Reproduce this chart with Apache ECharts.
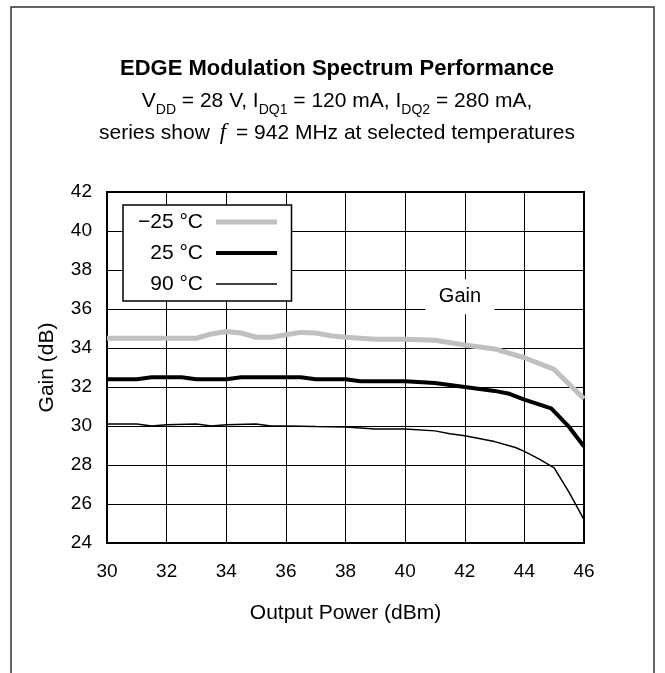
<!DOCTYPE html>
<html>
<head>
<meta charset="utf-8">
<script src="https://cdn.jsdelivr.net/npm/echarts@6/dist/echarts.min.js"></script>
<style>
  html, body { margin: 0; padding: 0; background: #fff; }
  #chart { width: 665px; height: 673px; }
</style>
</head>
<body>
<div id="chart"></div>
<script>
// output power (dBm) / gain (dB)
var seriesNames = ['\u221225 \u00b0C', '25 \u00b0C', '90 \u00b0C'];

var pOutCold = [30, 31, 32, 33, 33.5, 34, 34.5, 35, 35.5, 36, 36.5, 37, 37.5, 38, 39, 40, 41, 42, 43, 44, 45, 46];
var gainCold = [34.5, 34.5, 34.5, 34.5, 34.72, 34.85, 34.77, 34.55, 34.55, 34.68, 34.8, 34.77, 34.63, 34.55, 34.45, 34.45, 34.4, 34.15, 33.95, 33.5, 32.9, 31.4];

var pOutRoom = [30, 31, 31.5, 32, 32.5, 33, 34, 34.5, 35, 36, 36.5, 37, 38, 38.5, 39, 40, 41, 42, 43, 43.5, 44, 44.9, 45.5, 46];
var gainRoom = [32.4, 32.4, 32.5, 32.5, 32.5, 32.4, 32.4, 32.5, 32.5, 32.5, 32.5, 32.4, 32.4, 32.3, 32.3, 32.3, 32.2, 32.0, 31.8, 31.65, 31.35, 30.9, 29.95, 28.95];

var pOutHot = [30, 31, 31.5, 32, 33, 33.5, 34, 35, 35.5, 36, 37, 38, 39, 40, 41, 41.5, 42, 43, 43.7, 44, 44.5, 45, 45.5, 46];
var gainHot = [30.1, 30.1, 30.0, 30.07, 30.1, 30.0, 30.07, 30.1, 30.0, 30.0, 29.97, 29.95, 29.85, 29.85, 29.75, 29.6, 29.5, 29.2, 28.9, 28.7, 28.3, 27.85, 26.6, 25.2];

var xTicks = [30, 32, 34, 36, 38, 40, 42, 44, 46];
var yTicks = [24, 26, 28, 30, 32, 34, 36, 38, 40, 42];

var lineColors = ['#c0c0c0', '#000', '#000'];
var lineWidths = [5, 4, 1.5];

function pairs(xs, ys) {
  var res = [];
  for (var i = 0; i < xs.length; i++) res.push([xs[i], ys[i]]);
  return res;
}

var font = 'Liberation Sans, Arial, sans-serif';
var chart = echarts.init(document.getElementById('chart'));

var legendData = seriesNames.map(function (n, i) {
  return { name: n, lineStyle: { color: lineColors[i], width: lineWidths[i] } };
});

chart.setOption({
  backgroundColor: '#fff',
  animation: false,
  graphic: [{
    type: 'rect',
    shape: { x: 11, y: 7, width: 643, height: 700 },
    style: { fill: 'none', stroke: '#333', lineWidth: 1.5 },
    silent: true
  }],
  title: [{
    text: 'EDGE Modulation Spectrum Performance',
    left: 332, top: 53, textAlign: 'center',
    textStyle: { fontFamily: font, fontSize: 22, fontWeight: 'bold', color: '#000' }
  }, {
    text: '{a|V}{b|DD}{a| = 28 V, I}{b|DQ1}{a| = 120 mA, I}{b|DQ2}{a| = 280 mA,}\n' +
          '{a|series show }{f|f}{a| = 942 MHz at selected temperatures}',
    left: 332, top: 80, textAlign: 'center',
    textStyle: {
      fontWeight: 'normal',
      rich: {
        a: { fontFamily: font, fontSize: 21, fontWeight: 'normal', color: '#000', lineHeight: 32 },
        b: { fontFamily: font, fontSize: 14, fontWeight: 'normal', color: '#000', lineHeight: 20, verticalAlign: 'bottom' },
        f: { fontFamily: 'Liberation Serif, serif', fontStyle: 'italic', fontWeight: 'normal', fontSize: 23, color: '#000', lineHeight: 32, padding: [0, 4, 0, 4] }
      }
    }
  }],
  legend: {
    orient: 'vertical',
    left: 123, top: 205,
    align: 'right',
    padding: [6, 12, 6, 8],
    itemGap: 9,
    itemWidth: 61,
    itemHeight: 14,
    borderColor: '#000',
    borderWidth: 1.5,
    backgroundColor: '#fff',
    itemStyle: { color: 'rgba(0,0,0,0)', borderWidth: 0, opacity: 0 },
    textStyle: { fontFamily: font, fontSize: 21, color: '#000', width: 72, align: 'right', lineHeight: 22, padding: [0, 8, 0, 0] },
    data: legendData
  },
  grid: {
    left: 107, right: 81, top: 192, bottom: 130,
    show: true, borderColor: '#000', borderWidth: 2, backgroundColor: 'transparent'
  },
  xAxis: {
    type: 'value', min: 30, max: 46, interval: 2,
    name: 'Output Power (dBm)', nameLocation: 'middle', nameGap: 60,
    nameTextStyle: { fontFamily: font, fontSize: 21, color: '#000' },
    axisLine: { lineStyle: { color: '#000', width: 2 } },
    axisTick: { show: false },
    axisLabel: { fontFamily: font, fontSize: 19, color: '#000', margin: 19,
      formatter: function (v) { return xTicks.indexOf(v) >= 0 ? String(v) : ''; } },
    splitLine: { show: true, lineStyle: { color: '#000', width: 1 } }
  },
  yAxis: {
    type: 'value', min: 24, max: 42, interval: 2,
    name: 'Gain (dB)', nameLocation: 'middle', nameGap: 49,
    nameTextStyle: { fontFamily: font, fontSize: 21, color: '#000' },
    axisLine: { lineStyle: { color: '#000', width: 2 } },
    axisTick: { show: false },
    axisLabel: { fontFamily: font, fontSize: 19, color: '#000', margin: 15,
      formatter: function (v) { return yTicks.indexOf(v) >= 0 ? String(v) : ''; } },
    splitLine: { show: true, lineStyle: { color: '#000', width: 1 } }
  },
  series: [{
    name: seriesNames[0], type: 'line', symbol: 'none',
    lineStyle: { color: lineColors[0], width: lineWidths[0] }, itemStyle: { color: lineColors[0] },
    data: pairs(pOutCold, gainCold),
    markPoint: {
      symbol: 'rect', symbolSize: [69, 35],
      itemStyle: { color: '#fff' },
      label: { show: true, formatter: 'Gain', fontFamily: font, fontSize: 20, color: '#000' },
      data: [{ coord: [41.84, 36.63] }]
    }
  }, {
    name: seriesNames[1], type: 'line', symbol: 'none',
    lineStyle: { color: lineColors[1], width: lineWidths[1] }, itemStyle: { color: lineColors[1] },
    data: pairs(pOutRoom, gainRoom)
  }, {
    name: seriesNames[2], type: 'line', symbol: 'none',
    lineStyle: { color: lineColors[2], width: lineWidths[2] }, itemStyle: { color: lineColors[2] },
    data: pairs(pOutHot, gainHot)
  }]
});

window.addEventListener('resize', function () { chart.resize(); });
</script>
</body>
</html>
